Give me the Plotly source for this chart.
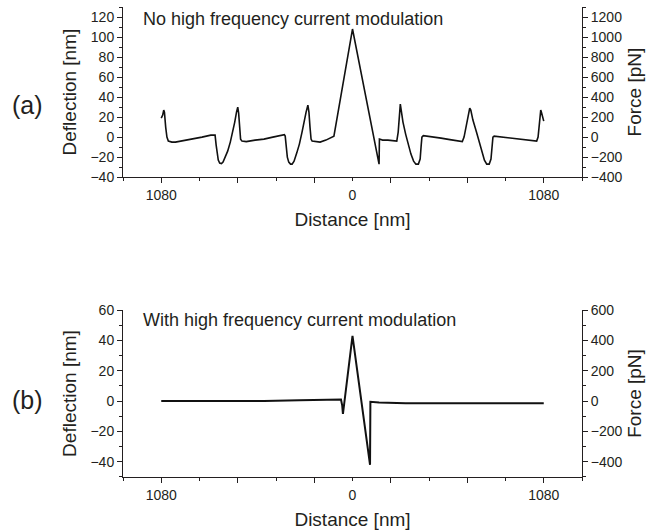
import plotly.graph_objects as go

# ---------------- data ----------------
# Panel (a): no high-frequency current modulation; x = distance [nm], y = deflection [nm]
top_x = [-1080, -1072, -1066, -1062, -1055, -1048, -1040, -1020, -1000, -950, -900, -850,
         -800, -780, -776, -770, -764, -758, -750, -740, -731, -720, -705, -690, -675,
         -665, -655, -648, -643, -638, -632, -624, -600, -550, -500, -450, -400, -385,
         -380, -374, -368, -360, -350, -341, -330, -315, -300, -285, -275, -262, -252,
         -246, -240, -234, -228, -200, -183, -150, -110, -105, 0, 150, 152, 170, 200,
         250, 258, 264, 270, 275, 285, 300, 315, 330, 345, 358, 372, 382, 388, 392, 400,
         450, 500, 550, 600, 620, 630, 640, 655, 662, 668, 680, 700, 715, 730, 745, 758,
         772, 782, 789, 793, 800, 850, 900, 950, 1000, 1040, 1048, 1055, 1063, 1068,
         1073, 1080]
top_defl = [19, 22, 27, 25, 10, 0, -4, -5, -5, -3.5, -2, 0,
            2, 2.5, 2, -8, -18, -23, -26, -26.5, -25, -21, -14, -5, 6,
            15, 25, 30, 24, 10, -2, -4, -4.5, -3, -2, 0, 2, 2.5,
            1, -10, -20, -25, -27, -27, -24, -16, -7, 5, 15, 25, 32,
            25, 10, -2, -4, -5, -5, -3, 0, 1, 108, -27, -2, -3, -3,
            -4, 5, 20, 33, 27, 15, 3, -8, -17, -24, -27, -27, -22, -8, 0, 1.5,
            0.5, -1, -2.5, -4, -4.5, 0, 10, 25, 29, 27, 17, 5, -5, -15, -23, -27,
            -27, -22, -6, 0, 1, 0, -1, -2.5, -3.5, -4, 0, 15, 27, 24,
            19, 16]

# Panel (b): with high-frequency current modulation
bot_x = [-1080, -900, -700, -500, -300, -150, -65, -58, -54, 0, 99, 101, 150, 300, 500,
         700, 900, 1080]
bot_defl = [0, 0, 0, 0, 0.5, 1, 1, -3, -8.5, 43, -42, -0.5, -1, -1.5, -1.5,
            -1.5, -1.5, -1.5]

spring_k = 10  # pN per nm: force axis = deflection axis x 10

x_major = [-1080, -648, -216, 216, 648, 1080]
x_major_text = ["1080", "", "", "", "", "1080"]
x_minor = [-1296, -864, -432, 0, 432, 864, 1296]
x_mid = [0]
x_mid_text = ["0"]
x_range = [-1296, 1296]

top_left_range = [-40, 130]
bot_left_range = [-50, 60]

panel_labels = ["(a)", "(b)"]
panel_notes = ["No high frequency current modulation",
               "With high frequency current modulation"]
x_title = "Distance [nm]"
yl_title = "Deflection [nm]"
yr_title = "Force [pN]"

# ---------------- styling ----------------
FONT = "Liberation Sans, Arial, sans-serif"
INK = "#231f20"
tickfont = dict(family=FONT, size=14, color=INK)
titlefont = dict(family=FONT, size=19, color=INK)

fig = go.Figure()
fig.add_trace(go.Scatter(x=top_x, y=top_defl, mode="lines",
                         line=dict(color="#111111", width=1.6),
                         xaxis="x", yaxis="y", showlegend=False))
fig.add_trace(go.Scatter(x=bot_x, y=bot_defl, mode="lines",
                         line=dict(color="#111111", width=2),
                         xaxis="x2", yaxis="y3", showlegend=False))
# force traces (same data x spring constant) on the right axes, not drawn
fig.add_trace(go.Scatter(x=top_x, y=[d * spring_k for d in top_defl], mode="none",
                         xaxis="x", yaxis="y2", showlegend=False, hoverinfo="skip"))
fig.add_trace(go.Scatter(x=bot_x, y=[d * spring_k for d in bot_defl], mode="none",
                         xaxis="x2", yaxis="y4", showlegend=False, hoverinfo="skip"))
# carriers for the "0" label axes
fig.add_trace(go.Scatter(x=top_x, y=top_defl, mode="none",
                         xaxis="x3", yaxis="y", showlegend=False, hoverinfo="skip"))
fig.add_trace(go.Scatter(x=bot_x, y=bot_defl, mode="none",
                         xaxis="x4", yaxis="y3", showlegend=False, hoverinfo="skip"))

common_ax = dict(showline=True, linecolor=INK, linewidth=1, showgrid=False,
                 zeroline=False, ticks="outside", tickcolor=INK, tickwidth=1,
                 tickfont=tickfont, automargin=False)

def xaxis_def(anchor):
    return dict(common_ax, domain=[0, 1], anchor=anchor, range=x_range,
                tickmode="array", tickvals=x_major, ticktext=x_major_text, ticklen=5,
                minor=dict(tickmode="array", tickvals=x_minor, ticks="outside",
                           ticklen=3, tickcolor=INK, tickwidth=1),
                title=dict(text=x_title, font=titlefont, standoff=10))

def xmid_def(over, anchor):
    return dict(overlaying=over, anchor=anchor, range=x_range, side="bottom",
                showline=False, showgrid=False, zeroline=False,
                tickmode="array", tickvals=x_mid, ticktext=x_mid_text,
                ticks="outside", ticklen=5, tickcolor="rgba(0,0,0,0)",
                tickfont=tickfont, automargin=False)

def yleft_def(domain, rng, anchor):
    return dict(common_ax, domain=domain, anchor=anchor, range=rng,
                tick0=0, dtick=20, ticklen=5,
                minor=dict(dtick=10, ticks="outside", ticklen=3, tickcolor=INK),
                title=dict(text=yl_title, font=titlefont, standoff=8))

def yright_def(over, rng, anchor):
    return dict(common_ax, overlaying=over, side="right", anchor=anchor,
                range=[rng[0] * spring_k, rng[1] * spring_k],
                tick0=0, dtick=200, ticklen=5,
                minor=dict(dtick=100, ticks="outside", ticklen=3, tickcolor=INK),
                title=dict(text=yr_title, font=titlefont, standoff=6))

top_dom = [0.638, 1.0]
bot_dom = [0.0, 0.3553]

fig.update_layout(
    width=646, height=531,
    margin=dict(l=123, r=64, t=7, b=54),
    paper_bgcolor="white", plot_bgcolor="white",
    font=dict(family=FONT, color=INK),
    xaxis=xaxis_def("y"),
    xaxis2=xaxis_def("y3"),
    xaxis3=xmid_def("x", "y"),
    xaxis4=xmid_def("x2", "y3"),
    yaxis=yleft_def(top_dom, top_left_range, "x"),
    yaxis2=yright_def("y", top_left_range, "x"),
    yaxis3=yleft_def(bot_dom, bot_left_range, "x2"),
    yaxis4=yright_def("y3", bot_left_range, "x2"),
)

# panel letters and notes
for lab, ypos in zip(panel_labels, [0.791, 0.164]):
    fig.add_annotation(text=lab, xref="paper", yref="paper", x=-0.209, y=ypos,
                       xanchor="center", yanchor="middle", showarrow=False,
                       font=dict(family=FONT, size=25, color=INK))
for note, ypos in zip(panel_notes, [0.9745, 0.334]):
    fig.add_annotation(text=note, xref="paper", yref="paper", x=0.039, y=ypos,
                       xanchor="left", yanchor="middle", showarrow=False,
                       font=dict(family=FONT, size=18, color=INK))

fig.write_html("out.html")
